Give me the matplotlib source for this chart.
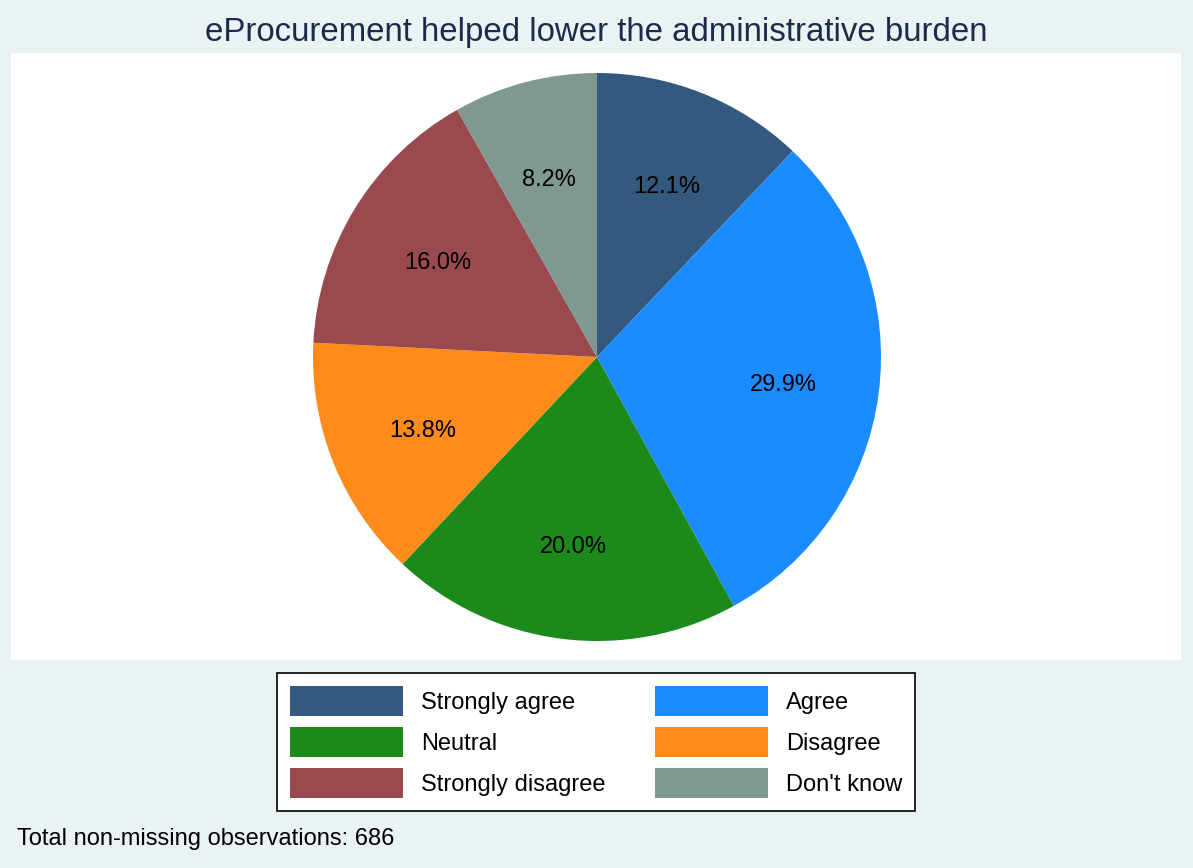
import matplotlib.pyplot as plt

plt.rcParams['font.family'] = ['Liberation Sans', 'DejaVu Sans']

# data
categories = ['Strongly agree', 'Agree', 'Neutral', 'Disagree',
              'Strongly disagree', "Don't know"]
shares = [12.1, 29.9, 20.0, 13.8, 16.0, 8.2]
colors = ['#33597e', '#1a8cff', '#1b8a1b', '#ff8c1a', '#9a4a4f', '#7f9990']
n_obs = 686

W, H = 1193, 868
fig = plt.figure(figsize=(W / 100, H / 100), dpi=100)
fig.patch.set_facecolor('#eaf2f3')

# white plot region
bg = fig.add_axes([11 / W, (H - 660) / H, 1170 / W, 607 / H], zorder=0)
bg.set_facecolor('white')
bg.set_xticks([])
bg.set_yticks([])
for s in bg.spines.values():
    s.set_visible(False)

cx, cy, r = 597, 357, 284
ax = fig.add_axes([(cx - r) / W, (H - cy - r) / H, 2 * r / W, 2 * r / H], zorder=1)
wedges, texts, autotexts = ax.pie(shares, colors=colors, startangle=90,
                                  counterclock=False, radius=1,
                                  autopct='%.1f%%', pctdistance=0.66,
                                  wedgeprops=dict(linewidth=0),
                                  textprops=dict(fontsize=17, color='black'))
# nudge labels down a little, as in the original
for t in autotexts:
    x, y = t.get_position()
    t.set_position((x, y - 0.014))
ax.set_xlim(-1, 1)
ax.set_ylim(-1, 1)
ax.set_aspect('equal')
ax.axis('off')

fig.text(0.5, 1 - 33 / H, 'eProcurement helped lower the administrative burden',
         ha='center', va='center', fontsize=23.8, color='#1c2b4a')

# legend filled row by row like the original
order = [0, 2, 4, 1, 3, 5]
leg = fig.legend([wedges[i] for i in order], [categories[i] for i in order],
                 ncol=2, loc='center', bbox_to_anchor=(596 / W, 1 - 742 / H),
                 frameon=True, fontsize=17, handlelength=4.8, handleheight=1.6,
                 handletextpad=0.76, columnspacing=2.1, labelspacing=0.45,
                 borderpad=0.55, borderaxespad=0, fancybox=False)
leg.get_frame().set_edgecolor('black')
leg.get_frame().set_linewidth(1.2)
leg.get_frame().set_facecolor('white')
leg.get_frame().set_alpha(1)

fig.text(17 / W, 1 - 839 / H, f'Total non-missing observations: {n_obs}',
         ha='left', va='center', fontsize=17, color='black')

fig.savefig('out.png', dpi=100, facecolor=fig.get_facecolor())
